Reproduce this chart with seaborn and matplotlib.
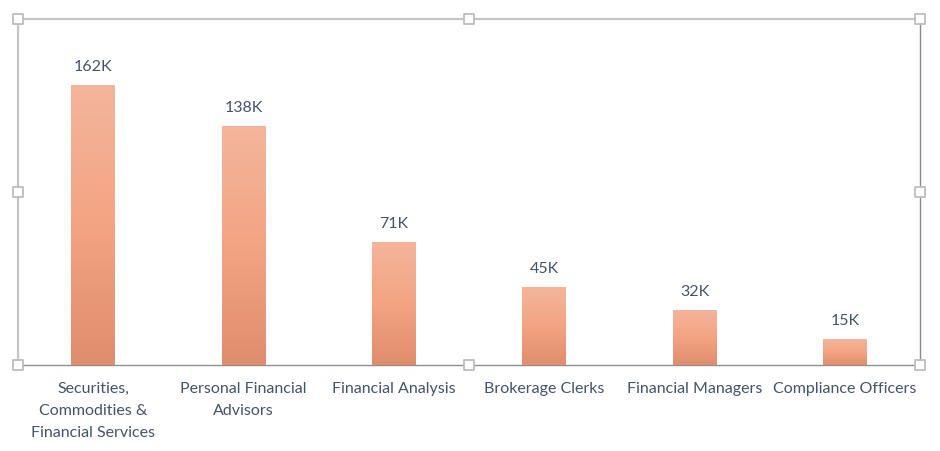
import numpy as np
import pandas as pd
import matplotlib
matplotlib.use("Agg")
import matplotlib.pyplot as plt
import seaborn as sns
from matplotlib.colors import LinearSegmentedColormap

categories = ["Securities,\nCommodities &\nFinancial Services",
              "Personal Financial\nAdvisors",
              "Financial Analysis",
              "Brokerage Clerks",
              "Financial Managers",
              "Compliance Officers"]
values = [162000, 138000, 71000, 45000, 32000, 15000]
value_labels = ["162K", "138K", "71K", "45K", "32K", "15K"]

df = pd.DataFrame({"category": categories, "value": values})

sns.set_theme(style="white")
plt.rcParams['font.family'] = ['Lato', 'DejaVu Sans']
text_color = "#44546A"

fig = plt.figure(figsize=(9.4, 4.51), dpi=100)
ax = fig.add_axes([18 / 940, 1 - 365 / 451, 902 / 940, 346 / 451])

sns.barplot(data=df, x="category", y="value", color="#F4A582", width=0.29,
            ax=ax, zorder=2)

# gradient fill clipped to each bar
grad = LinearSegmentedColormap.from_list("g", ["#E08D6D", "#F3A482", "#F4B59C"])
gradient = np.linspace(0, 1, 256).reshape(-1, 1)
for patch, lab in zip(ax.patches, value_labels):
    x0, y0 = patch.get_x(), patch.get_y()
    w, h = patch.get_width(), patch.get_height()
    im = ax.imshow(gradient, cmap=grad, aspect="auto", origin="lower",
                   extent=[x0, x0 + w, y0, y0 + h], zorder=3)
    im.set_clip_path(patch)
    patch.set_facecolor("none")
    patch.set_edgecolor("none")
    ax.annotate(lab, (x0 + w / 2, y0 + h), xytext=(0, 8),
                textcoords="offset points", ha="center", va="bottom",
                fontsize=11.5, color=text_color)

ax.set_xlim(-0.5, len(categories) - 0.5)
ax.set_ylim(0, 200000)
ax.set_yticks([])
ax.set_xlabel("")
ax.set_ylabel("")
ax.tick_params(axis="x", length=0, pad=12, labelsize=11.5, labelcolor=text_color)
for t in ax.get_xticklabels():
    t.set_linespacing(1.75)
    t.set_va("top")

ax.spines["top"].set_color("#C4C4C4")
ax.spines["top"].set_linewidth(1.6)
ax.spines["left"].set_color("#C4C4C4")
ax.spines["left"].set_linewidth(1.6)
ax.spines["right"].set_color("#8A8A8A")
ax.spines["right"].set_linewidth(1.0)
ax.spines["bottom"].set_color("#8F8F8F")
ax.spines["bottom"].set_linewidth(1.0)

# selection handles of the plot area
hx = [0, 0.5, 1, 0, 1, 0, 0.5, 1]
hy = [0, 0, 0, 0.5, 0.5, 1, 1, 1]
ax.scatter(hx, hy, s=55, marker="s", facecolor="white", edgecolor="#BDBDBD",
           linewidth=1.3, transform=ax.transAxes, clip_on=False, zorder=5)

fig.savefig("out.png", dpi=100, facecolor="white")
